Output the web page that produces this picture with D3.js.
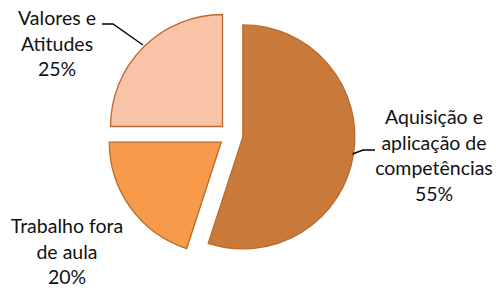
<!DOCTYPE html>
<html>
<head>
<meta charset="utf-8">
<script src="https://cdn.jsdelivr.net/npm/d3@7"></script>
<style>
  html, body { margin:0; padding:0; background:#fff; }
  svg text { font-family: Lato, "Liberation Sans", sans-serif; fill:#111; }
</style>
</head>
<body>
<svg id="chart" width="496" height="293"></svg>
<script>
// dados
const categories = ['Aquisição e aplicação de competências', 'Trabalho fora de aula', 'Valores e Atitudes'];
const values     = [55, 20, 25];
const labelLines = [
  ['Aquisição e', 'aplicação de', 'competências', '55%'],
  ['Trabalho fora', 'de aula', '20%'],
  ['Valores e', 'Atitudes', '25%'],
];
const fills = ['#C97A3B', '#F79A4B', '#F8C3A6'];

const W = 496, H = 293;
const cx = 231, cy = 135, R = 112, explode = 12;

const svg = d3.select('#chart');

const pie = d3.pie().sort(null).value(d => d)(values);
const arc = d3.arc().innerRadius(0).outerRadius(R);

const g = svg.append('g').attr('transform', `translate(${cx},${cy})`);

g.selectAll('path')
  .data(pie).join('path')
  .attr('d', arc)
  .attr('fill', (d, i) => fills[i])
  .attr('stroke', '#B86B2C')
  .attr('stroke-width', 1.3)
  .attr('transform', d => {
    const a = (d.startAngle + d.endAngle) / 2;
    return `translate(${Math.sin(a) * explode},${-Math.cos(a) * explode})`;
  });

// rótulos (centro x, baseline da 1ª linha)
const labelPos = [[434, 124], [67, 233], [57, 25]];
const lineH = 25.5;

labelLines.forEach((lines, i) => {
  const t = svg.append('text')
    .attr('text-anchor', 'middle')
    .attr('font-size', 19.5);
  lines.forEach((s, j) => {
    t.append('tspan')
      .attr('x', labelPos[i][0])
      .attr('y', labelPos[i][1] + j * lineH)
      .text(s);
  });
});

// linhas de chamada
const leaders = [
  [[352.5, 154], [363, 150], [375, 150]],
  [[102, 24], [113, 24], [143, 45]],
];
leaders.forEach(pts => {
  svg.append('path')
    .attr('d', d3.line()(pts))
    .attr('fill', 'none')
    .attr('stroke', '#000')
    .attr('stroke-width', 1.4);
});
</script>
</body>
</html>
